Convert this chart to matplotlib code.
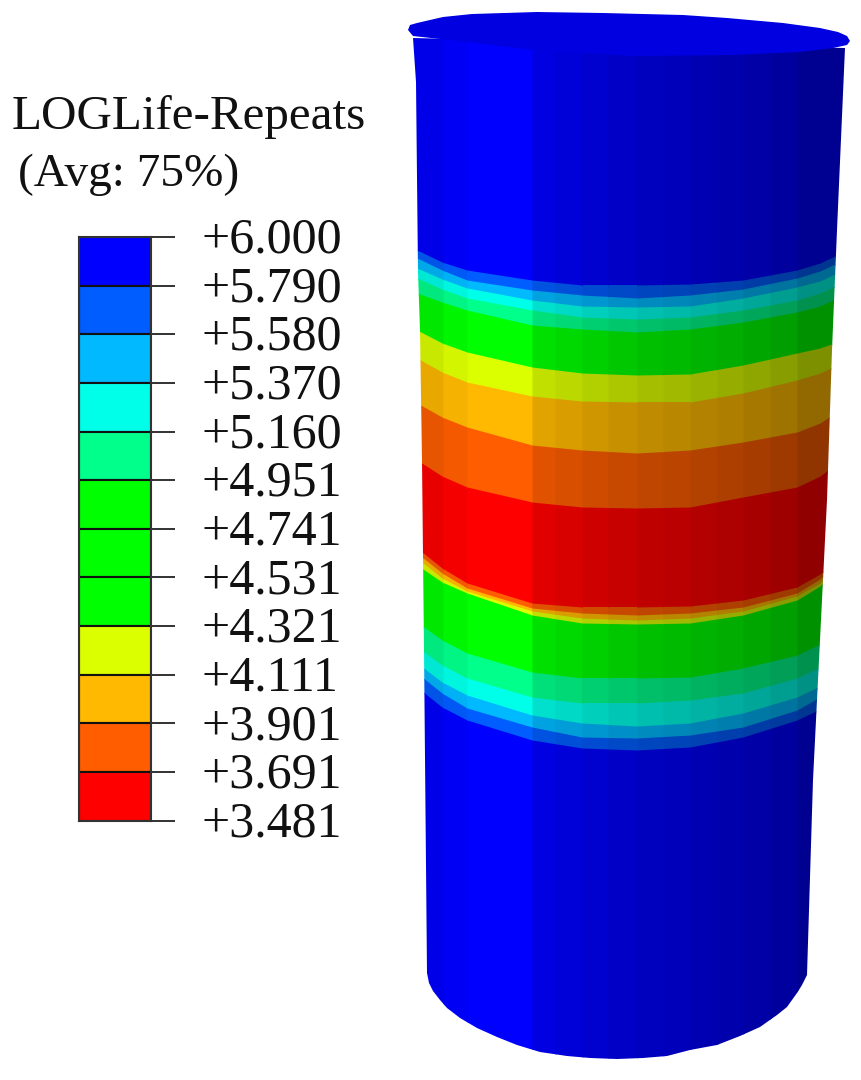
import numpy as np
import matplotlib
matplotlib.use('Agg')
import matplotlib.pyplot as plt
from matplotlib.patches import Polygon
from matplotlib.transforms import ScaledTranslation

W, H = 862, 1080

# legend
legend_title = 'LOGLife-Repeats'
legend_sub = '(Avg: 75%)'
tick_labels = ['+6.000', '+5.790', '+5.580', '+5.370', '+5.160', '+4.951', '+4.741',
               '+4.531', '+4.321', '+4.111', '+3.901', '+3.691', '+3.481']
legend_colors = ['#0000ff', '#005dff', '#00b9ff', '#00ffe8', '#00ff8b', '#00ff00', '#00ff00',
                 '#00ff00', '#dcff00', '#ffb900', '#ff5d00', '#ff0000']

# facet edges of the mesh (reference pixels) and how bright each facet is
facet_x = [405, 443, 467, 532, 555, 582, 608, 637, 663, 690, 717, 743, 770, 797, 850]
facet_shade = [0.91, 0.96, 1.0, 0.88, 0.85, 0.81, 0.78, 0.75, 0.73, 0.70, 0.68, 0.65, 0.62, 0.57]

# contour lines read across the cylinder at these x positions, top to bottom
sample_x = [417, 442, 467, 532, 582, 637, 690, 743, 797, 820, 837]
top_color = '#0000ff'
contours = [
    ('#005dff', [250, 262, 270, 280, 285, 285, 284, 280, 270, 263, 255]),
    ('#00b9ff', [258, 270, 280, 290, 295, 298, 295, 289, 278, 271, 263]),
    ('#00ffe8', [268, 279, 288, 300, 306, 307, 306, 298, 287, 281, 273]),
    ('#00ff8b', [278, 289, 298, 310, 317, 319, 317, 310, 300, 293, 285]),
    ('#00ff00', [293, 302, 310, 325, 329, 332, 329, 322, 312, 306, 298]),
    ('#dcff00', [330, 343, 352, 367, 373, 375, 374, 365, 353, 348, 342]),
    ('#ffb900', [358, 372, 382, 396, 401, 402, 402, 393, 380, 373, 365]),
    ('#ff5d00', [403, 417, 427, 445, 450, 453, 450, 442, 432, 423, 412]),
    ('#ff0000', [460, 476, 487, 502, 507, 508, 507, 497, 487, 476, 463]),
    ('#ff5d00', [548, 568, 583, 603, 607, 607, 606, 600, 587, 574, 558]),
    ('#ffb900', [553, 573, 588, 608, 613, 615, 613, 607, 593, 579, 562]),
    ('#dcff00', [558, 578, 591, 611, 618, 620, 618, 611, 596, 583, 565]),
    ('#00ff00', [565, 582, 593, 615, 623, 624, 623, 615, 600, 586, 568]),
    ('#00ff8b', [622, 640, 653, 672, 678, 678, 677, 668, 655, 644, 630]),
    ('#00ffe8', [647, 665, 678, 697, 703, 703, 700, 693, 678, 667, 652]),
    ('#00b9ff', [663, 682, 695, 715, 723, 726, 723, 713, 697, 686, 670]),
    ('#005dff', [673, 693, 708, 727, 737, 738, 735, 727, 710, 697, 680]),
    ('#0000ff', [687, 707, 720, 740, 748, 750, 747, 737, 720, 709, 695]),
]

# outline of the cylinder: left edge going down, bottom rim, right edge going up
outline_x = [413, 416, 418, 420, 422, 424, 427, 429, 433, 440, 447, 460, 477, 497, 517, 540, 567, 590, 617,
             643, 667, 690, 717, 740, 760, 777, 787, 797, 802, 807, 813, 822, 827, 832, 837, 845]
outline_y = [38, 82, 272, 330, 460, 650, 973, 983, 991, 1000, 1008, 1018, 1028, 1037, 1045, 1052, 1056, 1058, 1059,
             1058, 1056, 1050, 1045, 1036, 1027, 1015, 1007, 993, 985, 975, 780, 600, 500, 350, 230, 48]
# the lid at the top
lid_x = [408, 410, 417, 443, 472, 537, 603, 683, 727, 783, 820, 838, 847, 850, 847, 833, 800, 733, 633, 583, 533, 467, 413]
lid_y = [30, 25, 23, 17, 14, 12, 13, 15, 18, 23, 28, 32, 36, 41, 45, 48, 52, 55, 56, 53, 50, 42, 36]
lid_color = '#0000e1'

fig = plt.figure(figsize=(W / 100, H / 100), dpi=100)
ax = fig.add_axes([0, 0, 1, 1])
ax.set_xlim(0, W)
ax.set_ylim(H, 0)
ax.axis('off')

body = Polygon(np.column_stack([outline_x, outline_y]), closed=True, fc='none', ec='none')
ax.add_patch(body)


def shaded(color, k):
    return tuple(c * k for c in matplotlib.colors.to_rgb(color))


band_colors = [top_color] + [c for c, _ in contours]
band_edges = [[0] * len(sample_x)] + [ys for _, ys in contours] + [[H] * len(sample_x)]

for i, k in enumerate(facet_shade):
    xs = np.arange(facet_x[i], facet_x[i + 1] + 1.5, 1.0)
    # each band stops at the next contour, so nothing shows through at facet seams
    for b, color in enumerate(band_colors):
        y1 = np.interp(xs, sample_x, band_edges[b])
        y2 = np.interp(xs, sample_x, band_edges[b + 1]) + 1
        art = ax.fill_between(xs, y1, y2, color=shaded(color, k), lw=0, antialiased=False)
        art.set_clip_path(body)

ax.add_patch(Polygon(np.column_stack([lid_x, lid_y]), closed=True, fc=lid_color, ec='none'))

ax.text(12, 117, legend_title, family='Liberation Serif', fontsize=35.4, va='center', ha='left', color='#111111')
ax.text(18, 175, legend_sub, family='Liberation Serif', fontsize=34, va='center', ha='left', color='#111111')

# colour legend gets its own axes, y is the level index
cax = fig.add_axes([79 / W, 1 - 820.5 / H, 72 / W, 583.5 / H])
cax.barh(np.arange(12) + 0.5, np.ones(12), height=1.0, color=legend_colors, edgecolor='#111111', linewidth=1.5)
cax.set_xlim(0, 1)
cax.set_ylim(12, 0)
cax.set_xticks([])
cax.set_yticks(np.arange(13))
cax.set_yticklabels(tick_labels, family='Liberation Serif', fontsize=36, color='#111111')
cax.yaxis.tick_right()
cax.tick_params(axis='y', length=17.5, width=1.3, pad=19, color='#222222')
nudge = ScaledTranslation(0, 2 / 100, fig.dpi_scale_trans)
for lab in cax.get_yticklabels():
    lab.set_transform(lab.get_transform() + nudge)
for s in cax.spines.values():
    s.set_linewidth(1.5)
    s.set_color('#333333')

plt.savefig('out.png', dpi=100)
